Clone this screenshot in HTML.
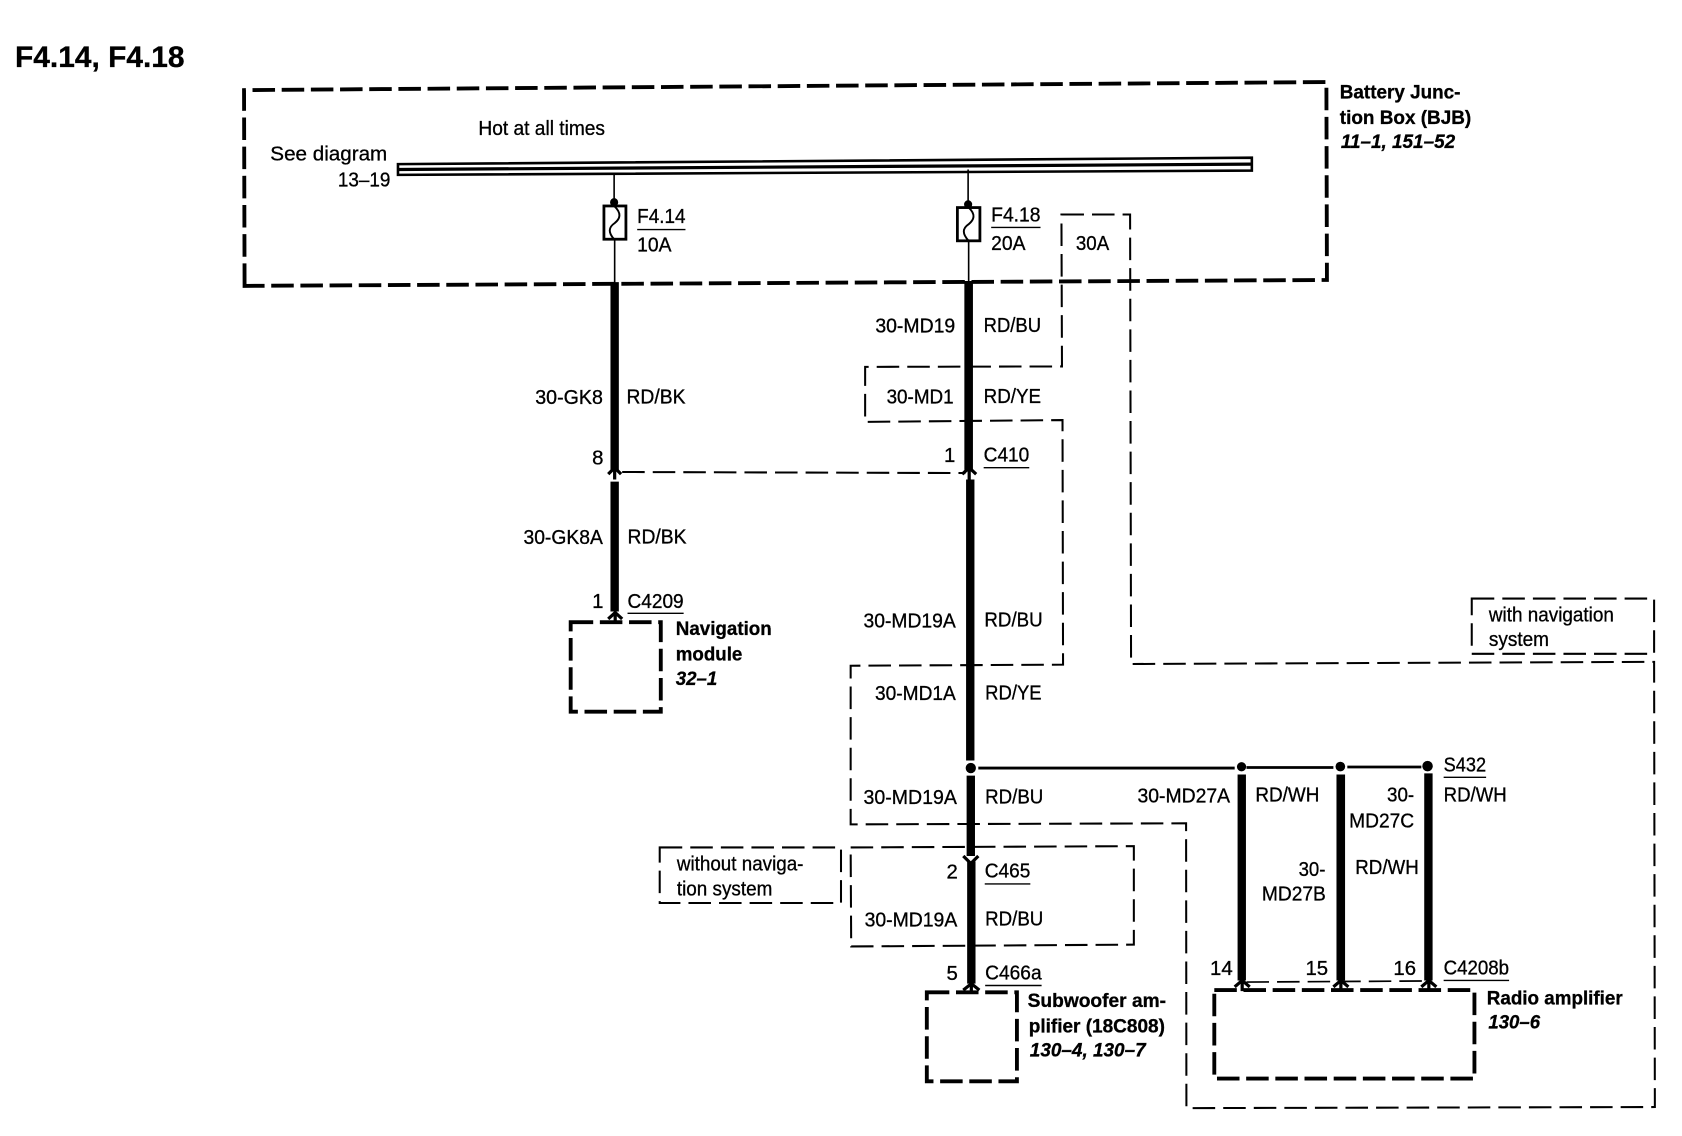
<!DOCTYPE html>
<html>
<head>
<meta charset="utf-8">
<title>F4.14, F4.18</title>
<style>
html,body{margin:0;padding:0;background:#fff;width:1682px;height:1136px;overflow:hidden}
svg{display:block}
text{font-family:"Liberation Sans",sans-serif;font-size:19px;fill:#000;stroke:#000;stroke-width:.3}
.b{font-weight:bold;font-size:18.5px;stroke-width:.3}
.i{font-weight:bold;font-style:italic;font-size:18.5px;stroke-width:.3}
.t{font-weight:bold;font-size:28px;stroke-width:.3}
.heavy{fill:none;stroke:#000;stroke-width:3.6;stroke-dasharray:21 6.2}
.thin{fill:none;stroke:#000;stroke-width:1.9;stroke-dasharray:21 7.5}
.w{stroke:#000;stroke-width:7.8;fill:none}
.c{fill:none;stroke:#000;stroke-width:3}
.u{stroke:#000;stroke-width:1.3}
</style>
</head>
<body>
<svg xmlns="http://www.w3.org/2000/svg" width="1682" height="1136" viewBox="0 0 1568 1059" preserveAspectRatio="none">
<rect width="1568" height="1059" fill="#fff"/>

<!-- thin dashed option paths -->
<path class="thin" d="M989.5,200 L1053.5,200 L1054.4,619 L1542,617 L1542.7,1032 L1106,1033 L1105.7,767.5 L793,768.5 L793,620.6 L991,619.6 L990.5,391.6 L806.5,393.3 L806.5,342 L990,341.6 Z"/>
<path class="thin" d="M793,790 L1057,788.8 L1057,880.6 L793.5,882.3 Z"/>
<path class="thin" d="M615,790 L784,790 L784,841.8 L615,841.8 Z"/>
<path class="thin" d="M1372,558 L1542,558 L1542,609.5 L1372,609.5 Z"/>
<path class="thin" d="M580,440 L900,441"/>
<path class="thin" d="M1162,915.5 L1328,914.5" style="stroke-width:1.6"/>

<!-- heavy dashed component boxes -->
<path class="heavy" d="M228,266.5 L227.5,84 L1236.5,76.5 L1237,261 Z"/>
<path class="heavy" d="M532,580 L616,580 L616,663.5 L532,663.5 Z"/>
<path class="heavy" d="M864,925 L948,925 L948,1008 L864,1008 Z"/>
<path class="heavy" d="M1132,923 L1374.5,923 L1374.5,1005.5 L1132,1005.5 Z"/>

<!-- bus bar -->
<path d="M371,153 L1167,147 L1167,159 L371,163 Z" fill="#fff" stroke="#000" stroke-width="2.4"/>
<path d="M371,158 L1167,153" stroke="#000" stroke-width="3"/>

<!-- fuse F4.14 -->
<path d="M572.5,162 V192 M573,223 V264" stroke="#000" stroke-width="1.5"/>
<circle cx="572.5" cy="188.5" r="3.8"/>
<rect x="563" y="192" width="20.5" height="31" fill="#fff" stroke="#000" stroke-width="2.6"/>
<path d="M572.5,192 C580,199 578,204 573,208 C567,212 567,217 572.5,223" fill="none" stroke="#000" stroke-width="1.8"/>

<!-- fuse F4.18 -->
<path d="M902.5,158 V193 M903,224 V264" stroke="#000" stroke-width="1.5"/>
<circle cx="902.5" cy="190.5" r="3.8"/>
<rect x="892.5" y="193.5" width="21" height="31" fill="#fff" stroke="#000" stroke-width="2.6"/>
<path d="M903,193.5 C910,200 908,205 903,209 C897,213 897,218 903,224.5" fill="none" stroke="#000" stroke-width="1.8"/>

<!-- thick wires -->
<path class="w" d="M573,263 V438"/>
<path class="w" d="M573,449 V570"/>
<path class="w" style="stroke-width:8" d="M903,262 V438"/>
<path class="w" d="M904.5,447 V709"/>
<path class="w" d="M905,723 V798"/>
<path class="w" d="M905.5,803 V917"/>
<path class="w" d="M1157.6,722 V914"/>
<path class="w" style="stroke-width:8" d="M1249.9,722 V914"/>
<path class="w" d="M1331.6,721 V914"/>

<!-- connector chevrons and stubs -->
<path class="c" d="M567,442 L573,436 L579,442 M573,438 V447"/>
<path class="c" d="M897,442 L903.5,436 L910,442 M903.5,438 V447"/>
<path class="c" d="M567,577 L573.5,571 L580,577 M573.5,572 V581"/>
<path class="c" d="M898,798 L905,805 L912,798"/>
<path class="c" d="M898,923 L905.5,917 L913,923 M905.5,917 V926"/>
<path class="c" d="M1151,920 L1158,914 L1165,920 M1158,915 V924"/>
<path class="c" d="M1243,920 L1250,914 L1257,920 M1250,915 V924"/>
<path class="c" d="M1325,920 L1332,914 L1339,920 M1332,915 V924"/>

<!-- splice line -->
<path d="M912,716 H1151 M1162,715.5 H1243 M1256,715 H1325" stroke="#000" stroke-width="2.6"/>
<circle cx="905" cy="716" r="4.8"/>
<circle cx="1157.4" cy="714.8" r="4.3"/>
<circle cx="1249.5" cy="714.6" r="4.5"/>
<circle cx="1330.8" cy="714.2" r="4.9"/>

<!-- underlines -->
<path class="u" d="M594,214 H639 M924,212 H970 M917,436 H959.5 M585,571.7 H637.3 M918,824 H960.5 M918.4,918.7 H971 M1345.8,724.6 H1385.4 M1345.8,914 H1406.8"/>

<!-- text -->
<text class="t" x="14" y="62.5" textLength="158" lengthAdjust="spacingAndGlyphs">F4.14, F4.18</text>
<text x="446" y="126" textLength="118" lengthAdjust="spacingAndGlyphs">Hot at all times</text>
<text x="252" y="149.6" textLength="109" lengthAdjust="spacingAndGlyphs">See diagram</text>
<text x="315" y="174" textLength="49" lengthAdjust="spacingAndGlyphs">13–19</text>
<text x="594" y="208" textLength="45" lengthAdjust="spacingAndGlyphs">F4.14</text>
<text x="594" y="234.5" textLength="32" lengthAdjust="spacingAndGlyphs">10A</text>
<text x="924" y="206.6" textLength="46" lengthAdjust="spacingAndGlyphs">F4.18</text>
<text x="924" y="233" textLength="32" lengthAdjust="spacingAndGlyphs">20A</text>
<text x="1003" y="233" textLength="31" lengthAdjust="spacingAndGlyphs">30A</text>

<text class="b" x="1249" y="92" textLength="112.5" lengthAdjust="spacingAndGlyphs">Battery Junc-</text>
<text class="b" x="1249" y="115.5" textLength="122.5" lengthAdjust="spacingAndGlyphs">tion Box (BJB)</text>
<text class="i" x="1250" y="138" textLength="106.5" lengthAdjust="spacingAndGlyphs">11–1, 151–52</text>

<text x="499" y="376.5" textLength="63" lengthAdjust="spacingAndGlyphs">30-GK8</text>
<text x="584" y="376" textLength="55" lengthAdjust="spacingAndGlyphs">RD/BK</text>
<text x="552" y="433">8</text>
<text x="488" y="507" textLength="74" lengthAdjust="spacingAndGlyphs">30-GK8A</text>
<text x="585" y="506.5" textLength="55" lengthAdjust="spacingAndGlyphs">RD/BK</text>
<text x="552" y="566.6">1</text>
<text x="585" y="566.6" textLength="52.3" lengthAdjust="spacingAndGlyphs">C4209</text>
<text class="b" x="630" y="592" textLength="89.4" lengthAdjust="spacingAndGlyphs">Navigation</text>
<text class="b" x="630" y="615.6" textLength="62" lengthAdjust="spacingAndGlyphs">module</text>
<text class="i" x="630" y="638.5" textLength="38.7" lengthAdjust="spacingAndGlyphs">32–1</text>

<text x="816" y="310" textLength="74.5" lengthAdjust="spacingAndGlyphs">30-MD19</text>
<text x="917" y="309.6" textLength="53.5" lengthAdjust="spacingAndGlyphs">RD/BU</text>
<text x="826.5" y="376" textLength="62.5" lengthAdjust="spacingAndGlyphs">30-MD1</text>
<text x="917" y="375.5" textLength="53.5" lengthAdjust="spacingAndGlyphs">RD/YE</text>
<text x="880" y="430.5">1</text>
<text x="917" y="430" textLength="42.5" lengthAdjust="spacingAndGlyphs">C410</text>
<text x="805" y="585" textLength="86" lengthAdjust="spacingAndGlyphs">30-MD19A</text>
<text x="917.7" y="584" textLength="54.3" lengthAdjust="spacingAndGlyphs">RD/BU</text>
<text x="815.7" y="652.7" textLength="75.3" lengthAdjust="spacingAndGlyphs">30-MD1A</text>
<text x="918.4" y="652" textLength="52.6" lengthAdjust="spacingAndGlyphs">RD/YE</text>
<text x="805" y="749.6" textLength="87" lengthAdjust="spacingAndGlyphs">30-MD19A</text>
<text x="918.4" y="749" textLength="54.2" lengthAdjust="spacingAndGlyphs">RD/BU</text>
<text x="882.4" y="819">2</text>
<text x="918" y="818" textLength="42.5" lengthAdjust="spacingAndGlyphs">C465</text>
<text x="806" y="863.7" textLength="86.4" lengthAdjust="spacingAndGlyphs">30-MD19A</text>
<text x="918.4" y="863" textLength="54.2" lengthAdjust="spacingAndGlyphs">RD/BU</text>
<text x="882.4" y="913.7">5</text>
<text x="918.4" y="913" textLength="52.6" lengthAdjust="spacingAndGlyphs">C466a</text>
<text x="631" y="811.4" textLength="118" lengthAdjust="spacingAndGlyphs">without naviga-</text>
<text x="631" y="835" textLength="89" lengthAdjust="spacingAndGlyphs">tion system</text>
<text class="b" x="958" y="938.7" textLength="129" lengthAdjust="spacingAndGlyphs">Subwoofer am-</text>
<text class="b" x="959" y="962.6" textLength="127" lengthAdjust="spacingAndGlyphs">plifier (18C808)</text>
<text class="i" x="960" y="985" textLength="108" lengthAdjust="spacingAndGlyphs">130–4, 130–7</text>

<text x="1388" y="579.5" textLength="116.5" lengthAdjust="spacingAndGlyphs">with navigation</text>
<text x="1388" y="602" textLength="56" lengthAdjust="spacingAndGlyphs">system</text>
<text x="1345.8" y="719" textLength="39.6" lengthAdjust="spacingAndGlyphs">S432</text>
<text x="1345.8" y="747" textLength="58.8" lengthAdjust="spacingAndGlyphs">RD/WH</text>
<text x="1293" y="747" textLength="25.3" lengthAdjust="spacingAndGlyphs">30-</text>
<text x="1257.7" y="771.6" textLength="60.6" lengthAdjust="spacingAndGlyphs">MD27C</text>
<text x="1060.4" y="748" textLength="86.3" lengthAdjust="spacingAndGlyphs">30-MD27A</text>
<text x="1170.3" y="747" textLength="59.7" lengthAdjust="spacingAndGlyphs">RD/WH</text>
<text x="1263.4" y="814.8" textLength="59.2" lengthAdjust="spacingAndGlyphs">RD/WH</text>
<text x="1210.6" y="816.5" textLength="25" lengthAdjust="spacingAndGlyphs">30-</text>
<text x="1176.4" y="839.4" textLength="59.6" lengthAdjust="spacingAndGlyphs">MD27B</text>
<text x="1128" y="909">14</text>
<text x="1217" y="909">15</text>
<text x="1299" y="909">16</text>
<text x="1345.8" y="908.6" textLength="61" lengthAdjust="spacingAndGlyphs">C4208b</text>
<text class="b" x="1386" y="936.3" textLength="126.7" lengthAdjust="spacingAndGlyphs">Radio amplifier</text>
<text class="i" x="1387.5" y="959" textLength="48.2" lengthAdjust="spacingAndGlyphs">130–6</text>
</svg>
</body>
</html>
